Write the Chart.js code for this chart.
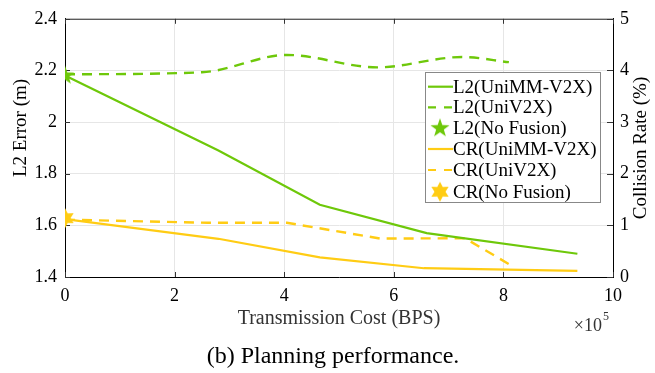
<!DOCTYPE html>
<html><head><meta charset="utf-8">
<script src="https://cdn.jsdelivr.net/npm/chart.js@4/dist/chart.umd.min.js"></script>
<style>html,body{margin:0;padding:0;background:#fff;}#wrap{width:655px;height:373px;}</style>
</head><body><div id="wrap"><canvas id="c" width="655" height="373"></canvas></div>
<script>
// ---- data (x in units of 1e5 BPS) ----
const l2UniMMx = [0, 2.8, 4.65, 6.6, 9.35];
const l2UniMMy = [2.18, 1.89, 1.68, 1.57, 1.49];
const l2UniV2Xx = [0, 2.5, 4.05, 5.7, 7.25, 8.1];
const l2UniV2Xy = [2.185, 2.193, 2.26, 2.212, 2.252, 2.232];
const l2NoFusionX = [0];
const l2NoFusionY = [2.18];
const crUniMMx = [0, 2.8, 4.65, 6.55, 9.35];
const crUniMMy = [1.12, 0.74, 0.38, 0.17, 0.12];
const crUniV2Xx = [0, 2.6, 4.05, 5.75, 7.3, 8.1];
const crUniV2Xy = [1.11, 1.05, 1.05, 0.745, 0.75, 0.25];
const crNoFusionX = [0];
const crNoFusionY = [1.14];
const xTickValues = [0, 2, 4, 6, 8, 10];
const legendLabels = ['L2(UniMM-V2X)', 'L2(UniV2X)', 'L2(No Fusion)', 'CR(UniMM-V2X)', 'CR(UniV2X)', 'CR(No Fusion)'];

const GREEN = 'rgb(110,200,10)';
const YELLOW = 'rgb(255,204,20)';
const FONT = "'Liberation Serif', 'Times New Roman', serif";

function pts(xs, ys){ return xs.map((x,i)=>({x:x, y:ys[i]})); }

function makeStar(color, n, rOut, rIn){
  const c = document.createElement('canvas');
  c.width = 22; c.height = 22;
  const g = c.getContext('2d');
  g.fillStyle = color;
  g.beginPath();
  for(let i=0;i<2*n;i++){
    const r = i%2===0 ? rOut : rIn;
    const a = -Math.PI/2 + i*Math.PI/n;
    const px = 11 + r*Math.cos(a), py = 11 + r*Math.sin(a);
    if(i===0) g.moveTo(px,py); else g.lineTo(px,py);
  }
  g.closePath(); g.fill();
  return c;
}
const greenStar = makeStar(GREEN, 5, 10, 4);
const yellowStar = makeStar(YELLOW, 6, 10, 5.5);

const dash = [10, 7];

const decor = {
  id: 'decor',
  beforeDatasetsDraw(chart){
    const {ctx, chartArea:a} = chart;
    ctx.save();
    ctx.strokeStyle = '#333'; ctx.lineWidth = 1;
    ctx.beginPath(); ctx.moveTo(a.left, a.top+0.5); ctx.lineTo(a.right, a.top+0.5); ctx.stroke();
    const xs = chart.scales.x, y = chart.scales.y, y1 = chart.scales.y1;
    ctx.beginPath();
    xTickValues.forEach(v=>{
      const px = Math.round(xs.getPixelForValue(v))+0.5;
      ctx.moveTo(px, a.top); ctx.lineTo(px, a.top+5);
      ctx.moveTo(px, a.bottom); ctx.lineTo(px, a.bottom-5);
    });
    y.ticks.forEach(t=>{
      const py = Math.round(y.getPixelForValue(t.value))+0.5;
      ctx.moveTo(a.left, py); ctx.lineTo(a.left+5, py);
    });
    y1.ticks.forEach(t=>{
      const py = Math.round(y1.getPixelForValue(t.value))+0.5;
      ctx.moveTo(a.right, py); ctx.lineTo(a.right-6, py);
    });
    ctx.stroke();
    ctx.restore();
  },
  afterDatasetsDraw(chart){
    const {ctx} = chart;
    ctx.save();
    const bx = 425, by = 72, bw = 175, bh = 130;
    ctx.fillStyle = '#fff';
    ctx.fillRect(bx, by, bw, bh);
    ctx.strokeStyle = '#888'; ctx.lineWidth = 1;
    ctx.strokeRect(bx+0.5, by+0.5, bw, bh);
    const rows = [86.7, 107.3, 128.3, 149, 170, 191.7];
    const kinds = [['line',GREEN,false],['line',GREEN,true],['star',greenStar],['line',YELLOW,false],['line',YELLOW,true],['star',yellowStar]];
    ctx.font = '19px ' + FONT;
    ctx.textBaseline = 'middle';
    ctx.textAlign = 'left';
    rows.forEach((ry,i)=>{
      const k = kinds[i];
      if(k[0]==='line'){
        ctx.strokeStyle = k[1]; ctx.lineWidth = 2.2;
        ctx.setLineDash(k[2] ? [8,8] : []);
        ctx.beginPath(); ctx.moveTo(428, ry); ctx.lineTo(453, ry); ctx.stroke();
        ctx.setLineDash([]);
      } else {
        ctx.drawImage(k[1], 440-11, ry-11);
      }
      ctx.fillStyle = '#000';
      ctx.fillText(legendLabels[i], 453, ry+1);
    });
    ctx.fillStyle = '#000';
    ctx.font = '19px ' + FONT;
    ctx.textAlign = 'center';
    ctx.save(); ctx.translate(21, 128); ctx.rotate(-Math.PI/2); ctx.fillText('L2 Error (m)', 0, 0); ctx.restore();
    ctx.save(); ctx.translate(641, 148); ctx.rotate(-Math.PI/2); ctx.fillText('Collision Rate (%)', 0, 0); ctx.restore();
    ctx.font = '18px ' + FONT;
    ctx.textAlign = 'right';
    ctx.fillStyle = '#333';
    ctx.fillText('\u00d710', 602, 326);
    ctx.font = '12px ' + FONT;
    ctx.textAlign = 'left';
    ctx.fillText('5', 603, 317);
    ctx.fillStyle = '#000';
    ctx.font = '24px ' + FONT;
    ctx.textAlign = 'center';
    ctx.fillText('(b) Planning performance.', 333, 357);
    ctx.restore();
  }
};

new Chart(document.getElementById('c'), {
  type: 'line',
  data: {
    datasets: [
      {label: legendLabels[0], data: pts(l2UniMMx, l2UniMMy), yAxisID: 'y', borderColor: GREEN, borderWidth: 2.2, pointRadius: 0, tension: 0, fill: false},
      {label: legendLabels[1], data: pts(l2UniV2Xx, l2UniV2Xy), yAxisID: 'y', borderColor: GREEN, borderWidth: 2.4, borderDash: dash, pointRadius: 0, cubicInterpolationMode: 'monotone', fill: false},
      {label: legendLabels[3], data: pts(crUniMMx, crUniMMy), yAxisID: 'y1', borderColor: YELLOW, borderWidth: 2.2, pointRadius: 0, tension: 0, fill: false},
      {label: legendLabels[4], data: pts(crUniV2Xx, crUniV2Xy), yAxisID: 'y1', borderColor: YELLOW, borderWidth: 2.4, borderDash: dash, pointRadius: 0, tension: 0, fill: false},
      {label: legendLabels[2], data: pts(l2NoFusionX, l2NoFusionY), yAxisID: 'y', showLine: false, pointStyle: greenStar, pointRadius: 10, borderColor: GREEN, backgroundColor: GREEN, clip: 0},
      {label: legendLabels[5], data: pts(crNoFusionX, crNoFusionY), yAxisID: 'y1', showLine: false, pointStyle: yellowStar, pointRadius: 10, borderColor: YELLOW, backgroundColor: YELLOW, clip: 0}
    ]
  },
  options: {
    responsive: false, animation: false, devicePixelRatio: 1,
    layout: {padding: {top: 18, left: 0, right: 0, bottom: 0}},
    plugins: {legend: {display: false}, tooltip: {enabled: false}},
    scales: {
      x: {
        type: 'linear', min: 0, max: 10,
        afterBuildTicks: s => { s.ticks = xTickValues.map(v => ({value: v})); },
        ticks: {padding: 8, color: '#000', font: {family: FONT, size: 18}, maxRotation: 0, callback: v => String(v)},
        grid: {color: '#e6e6e6', drawTicks: false},
        border: {color: '#000', width: 1},
        title: {display: true, text: 'Transmission Cost (BPS)', color: '#333', font: {family: FONT, size: 20}, padding: {top: 0, bottom: 42}},
        afterFit: s => { s.height = 96; }
      },
      y: {
        position: 'left', min: 1.4, max: 2.4,
        ticks: {stepSize: 0.2, padding: 8, color: '#000', font: {family: FONT, size: 18}, callback: v => String(Number(v.toFixed(1)))},
        grid: {color: '#e6e6e6', drawTicks: false},
        border: {color: '#000', width: 1},
        afterFit: s => { s.width = 65; }
      },
      y1: {
        position: 'right', min: 0, max: 5,
        ticks: {stepSize: 1, padding: 7, color: '#000', font: {family: FONT, size: 18}, callback: v => String(v)},
        grid: {display: false, drawTicks: false},
        border: {color: '#000', width: 1},
        afterFit: s => { s.width = 42; }
      }
    }
  },
  plugins: [decor]
});
</script>
</body></html>
